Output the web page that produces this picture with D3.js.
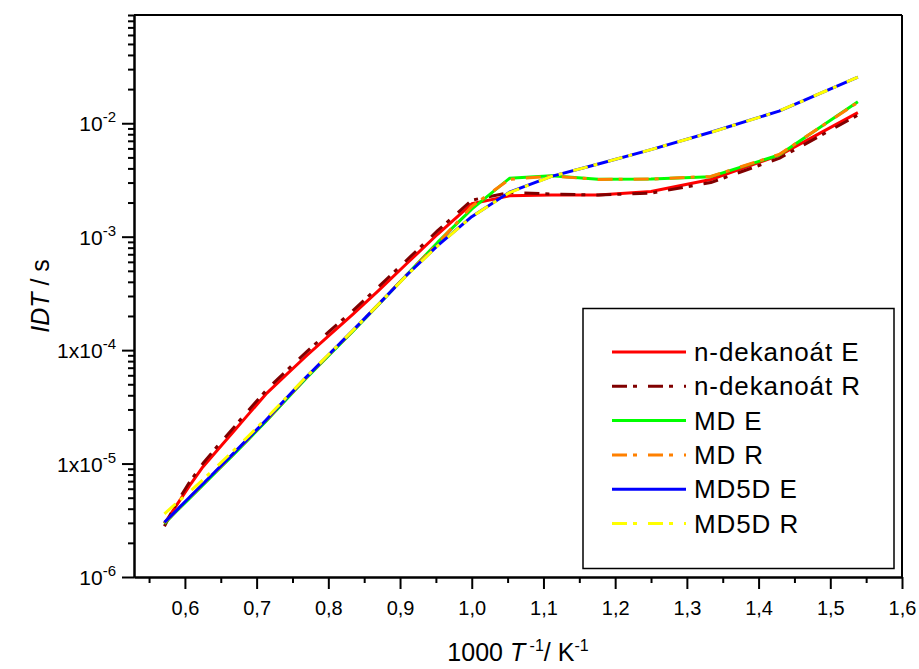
<!DOCTYPE html>
<html>
<head>
<meta charset="utf-8">
<script src="https://cdn.jsdelivr.net/npm/d3@7"></script>
<style>
    body { margin: 0; background: #fff; }
    text { font-family: "Liberation Sans", Arial, sans-serif; fill: #000; }
</style>
</head>
<body>
<div id="d3-container"></div>
<script>
// ignition delay times, temperature in K
const temps = [1750, 1700, 1650, 1600, 1550, 1500, 1450, 1400, 1350, 1300, 1250, 1200, 1150, 1100, 1050, 1000, 950, 900, 850, 800, 750, 700, 650]

const dekanoatE = [2.96e-6, 4.28e-6, 6.32e-6, 9.33e-6, 1.31e-5, 1.88e-5, 2.77e-5, 4.18e-5, 6.01e-5, 8.87e-5, 1.33e-4, 2.05e-4, 3.33e-4, 5.77e-4, 1.05e-3, 1.95e-3, 2.29e-3, 2.33e-3, 2.33e-3, 2.50e-3, 3.19e-3, 5.21e-3, 1.24e-2]
const dekanoatR = [2.8e-6, 4.5e-6, 6.8e-6, 1.0e-5, 1.42e-5, 2.03e-5, 3.0e-5, 4.5e-5, 6.5e-5, 9.6e-5, 1.44e-4, 2.2e-4, 3.6e-4, 6.2e-4, 1.13e-3, 2.1e-3, 2.45e-3, 2.38e-3, 2.33e-3, 2.42e-3, 3.0e-3, 4.9e-3, 1.18e-2]
const mdE = [2.95e-6, 3.8e-6, 4.9e-6, 6.45e-6, 8.65e-6, 1.18e-5, 1.66e-5, 2.4e-5, 3.63e-5, 5.65e-5, 8.9e-5, 1.45e-4, 2.5e-4, 4.6e-4, 8.9e-4, 1.75e-3, 3.27e-3, 3.45e-3, 3.21e-3, 3.22e-3, 3.38e-3, 5.25e-3, 1.55e-2]
const mdR = [3.0e-6, 3.85e-6, 5.0e-6, 6.55e-6, 8.8e-6, 1.2e-5, 1.69e-5, 2.44e-5, 3.68e-5, 5.72e-5, 9.0e-5, 1.46e-4, 2.52e-4, 4.6e-4, 8.7e-4, 1.85e-3, 3.2e-3, 3.42e-3, 3.2e-3, 3.22e-3, 3.4e-3, 5.3e-3, 1.53e-2]
const md5dE = [3.03e-6, 3.87e-6, 5.02e-6, 6.61e-6, 8.87e-6, 1.21e-5, 1.70e-5, 2.46e-5, 3.72e-5, 5.78e-5, 9.06e-5, 1.47e-4, 2.52e-4, 4.57e-4, 8.34e-4, 1.50e-3, 2.47e-3, 3.40e-3, 4.37e-3, 5.86e-3, 8.32e-3, 1.28e-2, 2.55e-2]
const md5dR = [3.6e-6, 4.5e-6, 5.6e-6, 7.2e-6, 9.5e-6, 1.28e-5, 1.77e-5, 2.54e-5, 3.78e-5, 5.8e-5, 9.1e-5, 1.47e-4, 2.52e-4, 4.55e-4, 8.3e-4, 1.5e-3, 2.45e-3, 3.4e-3, 4.37e-3, 5.86e-3, 8.3e-3, 1.28e-2, 2.55e-2]

const seriesNames = ["n-dekanoát E", "n-dekanoát R", "MD E", "MD R", "MD5D E", "MD5D R"]
const xTicks = [0.6, 0.7, 0.8, 0.9, 1.0, 1.1, 1.2, 1.3, 1.4, 1.5, 1.6]
const yTicks = [1e-6, 1e-5, 1e-4, 1e-3, 1e-2]
const yTickLabels = [["10", "-6"], ["1x10", "-5"], ["1x10", "-4"], ["10", "-3"], ["10", "-2"]]

const series = [
    {name: seriesNames[0], values: dekanoatE, color: "#ff0000", dash: null},
    {name: seriesNames[1], values: dekanoatR, color: "#800000", dash: "15,6,4,11"},
    {name: seriesNames[2], values: mdE, color: "#00ff00", dash: null},
    {name: seriesNames[3], values: mdR, color: "#ff8000", dash: "15,6,4,11"},
    {name: seriesNames[4], values: md5dE, color: "#0000ff", dash: null},
    {name: seriesNames[5], values: md5dR, color: "#ffff00", dash: "15,6,4,11"}
]

const width = 919
const height = 669
const margin = {top: 15, right: 17, bottom: 92, left: 134}

const svg = d3.select("#d3-container")
    .append("svg")
    .attr("width", width)
    .attr("height", height)

const x = d3.scaleLinear()
    .domain([0.529, 1.6])
    .range([margin.left, width - margin.right])

const y = d3.scaleLog()
    .domain([1e-6, 0.09])
    .range([height - margin.bottom, margin.top])

// minor ticks
let xMinor = []
for (let v = 0.55; v < 1.6; v += 0.1) xMinor.push(+v.toFixed(2))
let yMinor = []
for (let e = -6; e <= -2; e++) {
    for (let m = 2; m <= 9; m++) {
        let v = m * Math.pow(10, e)
        if (v <= 0.09 + 1e-9) yMinor.push(v)
    }
}

const xAxisG = svg.append("g")
    .attr("transform", `translate(0,${height - margin.bottom})`)
xAxisG.append("g")
    .call(d3.axisBottom(x).tickValues(xMinor).tickSize(6).tickSizeOuter(0).tickFormat(""))
xAxisG.append("g")
    .call(d3.axisBottom(x).tickValues(xTicks).tickSize(12).tickSizeOuter(0).tickPadding(12)
        .tickFormat(d => d3.format(".1f")(d).replace(".", ",")))

const yAxisG = svg.append("g")
    .attr("transform", `translate(${margin.left},0)`)
yAxisG.append("g")
    .call(d3.axisLeft(y).tickValues(yMinor).tickSize(6).tickSizeOuter(0).tickFormat(""))
yAxisG.append("g")
    .call(d3.axisLeft(y).tickValues(yTicks).tickSize(12).tickSizeOuter(0).tickFormat(""))

svg.selectAll(".domain").attr("stroke", "#000").attr("stroke-width", 2)
svg.selectAll(".tick line").attr("stroke", "#000").attr("stroke-width", 2)
xAxisG.selectAll(".tick text")
    .style("font-family", "'Liberation Sans', Arial, sans-serif")
    .style("font-size", "20px")
    .attr("fill", "#000")

// y labels with superscripts
const yLab = svg.append("g")
    .selectAll("text")
    .data(yTicks)
    .join("text")
    .attr("x", 116)
    .attr("y", d => y(d) + 8)
    .attr("text-anchor", "end")
    .style("font-size", "21px")
yLab.append("tspan").text((d, i) => yTickLabels[i][0])
yLab.append("tspan")
    .attr("dy", -9)
    .style("font-size", "15px")
    .text((d, i) => yTickLabels[i][1])

// top and right frame
svg.append("line")
    .attr("x1", margin.left).attr("x2", width - margin.right)
    .attr("y1", margin.top).attr("y2", margin.top)
    .attr("stroke", "#000").attr("stroke-width", 2)
svg.append("line")
    .attr("x1", width - margin.right).attr("x2", width - margin.right)
    .attr("y1", margin.top).attr("y2", height - margin.bottom)
    .attr("stroke", "#000").attr("stroke-width", 2)

const line = d3.line()
    .x((d, i) => x(1000 / temps[i]))
    .y(d => y(d))

svg.append("g")
    .selectAll("path")
    .data(series)
    .join("path")
    .attr("d", d => line(d.values))
    .attr("fill", "none")
    .attr("stroke", d => d.color)
    .attr("stroke-width", 3)
    .attr("stroke-dasharray", d => d.dash)
    .attr("stroke-linejoin", "round")

// legend
const legend = svg.append("g")
legend.append("rect")
    .attr("x", 583).attr("y", 308.5)
    .attr("width", 311).attr("height", 260)
    .attr("fill", "#fff")
    .attr("stroke", "#000")
    .attr("stroke-width", 1.5)

const rows = legend.selectAll(".row")
    .data(series)
    .join("g")
    .attr("class", "row")
    .attr("transform", (d, i) => `translate(0,${352 + i * 34.3})`)
rows.append("line")
    .attr("x1", 612).attr("x2", 686)
    .attr("stroke", d => d.color)
    .attr("stroke-width", 3)
    .attr("stroke-dasharray", d => d.dash)
rows.append("text")
    .attr("x", 694)
    .attr("y", 9)
    .style("font-size", "26px")
    .style("letter-spacing", "0.9px")
    .text(d => d.name)

// axis titles
const yTitle = svg.append("text")
    .attr("transform", `translate(49,${(margin.top + height - margin.bottom) / 2}) rotate(-90)`)
    .attr("text-anchor", "middle")
    .style("font-size", "25px")
yTitle.append("tspan").style("font-style", "italic").text("IDT")
yTitle.append("tspan").text(" / s")

const xTitle = svg.append("text")
    .attr("x", (margin.left + width - margin.right) / 2)
    .attr("y", 661)
    .attr("text-anchor", "middle")
    .style("font-size", "25px")
xTitle.append("tspan").text("1000 ")
xTitle.append("tspan").style("font-style", "italic").text("T")
xTitle.append("tspan").attr("dy", -10).style("font-size", "16px").text(" -1")
xTitle.append("tspan").attr("dy", 10).text("/ K")
xTitle.append("tspan").attr("dy", -10).style("font-size", "16px").text("-1")
</script>
</body>
</html>
